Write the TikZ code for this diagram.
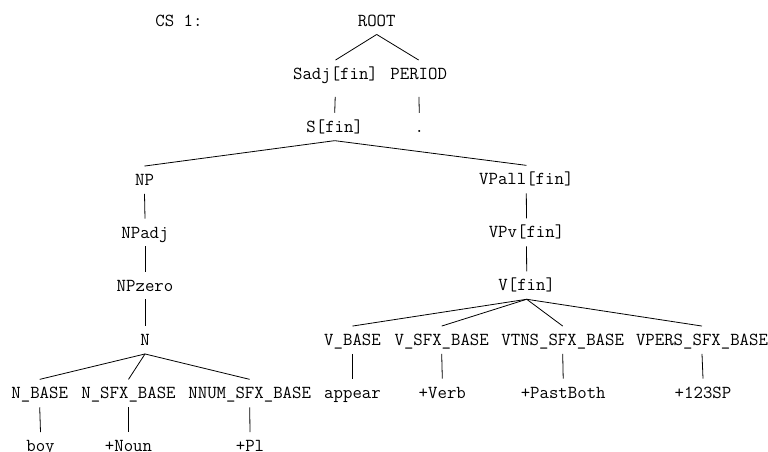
\documentclass[tikz,border=0pt]{standalone}
\begin{document}
\begin{tikzpicture}[x=1pt,y=-1pt,
  lbl/.style={font=\ttfamily\fontsize{18.3}{20}\selectfont, inner sep=0pt,
              text height=11.2pt, text depth=0pt, minimum height=27.5pt},
  edge/.style={line width=0.8pt},
  late/.style={edge, shorten <=9pt}]
\useasboundingbox (0,0) rectangle (768,451);
% labels
\node[lbl] (cs) at (179,20.7) {CS 1:};
\node[lbl] (root) at (376.7,20.5) {ROOT};
\node[lbl] (sadj) at (335.5,74) {Sadj[fin]};
\node[lbl] (period) at (418.7,74) {PERIOD};
\node[lbl] (s) at (334.7,126.7) {S[fin]};
\node[lbl] (dot) at (419.3,126.7) {.};
\node[lbl] (np) at (144.5,180) {NP};
\node[lbl] (npadj) at (145,232.5) {NPadj};
\node[lbl] (npzero) at (145,285.5) {NPzero};
\node[lbl] (n) at (145,340) {N};
\node[lbl] (nbase) at (39.7,393.3) {N\_BASE};
\node[lbl] (nsfx) at (128.5,393.3) {N\_SFX\_BASE};
\node[lbl] (nnum) at (249.7,393.3) {NNUM\_SFX\_BASE};
\node[lbl] (boy) at (40.5,446) {boy};
\node[lbl] (noun) at (128.5,446) {+Noun};
\node[lbl] (pl) at (250,446) {+Pl};
\node[lbl] (vpall) at (526.3,179.3) {VPall[fin]};
\node[lbl] (vpv) at (526.5,232.3) {VPv[fin]};
\node[lbl] (vfin) at (526.7,285.3) {V[fin]};
\node[lbl] (vbase) at (352.5,340) {V\_BASE};
\node[lbl] (vsfx) at (441.7,340) {V\_SFX\_BASE};
\node[lbl] (vtns) at (562.7,340) {VTNS\_SFX\_BASE};
\node[lbl] (vpers) at (702,340) {VPERS\_SFX\_BASE};
\node[lbl] (appear) at (352.5,392.5) {appear};
\node[lbl] (verb) at (442.3,392.5) {+Verb};
\node[lbl] (past) at (563.2,392.5) {+PastBoth};
\node[lbl] (sp) at (703,392.5) {+123SP};
% edges
\draw[edge] (root.south) -- (sadj.north);
\draw[edge] (root.south) -- (period.north);
\draw[late] (sadj.south) -- (s.north);
\draw[late] (period.south) -- (dot.north);
\draw[edge] (s.south) -- (np.north);
\draw[edge] (s.south) -- (vpall.north);
\draw[edge] (np.south) -- (npadj.north);
\draw[edge] (npadj.south) -- (npzero.north);
\draw[edge] (npzero.south) -- (n.north);
\draw[edge] (n.south) -- (nbase.north);
\draw[edge] (n.south) -- (nsfx.north);
\draw[edge] (n.south) -- (nnum.north);
\draw[edge] (nbase.south) -- (boy.north);
\draw[edge] (nsfx.south) -- (noun.north);
\draw[edge] (nnum.south) -- (pl.north);
\draw[edge] (vpall.south) -- (vpv.north);
\draw[edge] (vpv.south) -- (vfin.north);
\draw[edge] (vfin.south) -- (vbase.north);
\draw[edge] (vfin.south) -- (vsfx.north);
\draw[edge] (vfin.south) -- (vtns.north);
\draw[edge] (vfin.south) -- (vpers.north);
\draw[edge] (vbase.south) -- (appear.north);
\draw[edge] (vsfx.south) -- (verb.north);
\draw[edge] (vtns.south) -- (past.north);
\draw[edge] (vpers.south) -- (sp.north);
\end{tikzpicture}
\end{document}
